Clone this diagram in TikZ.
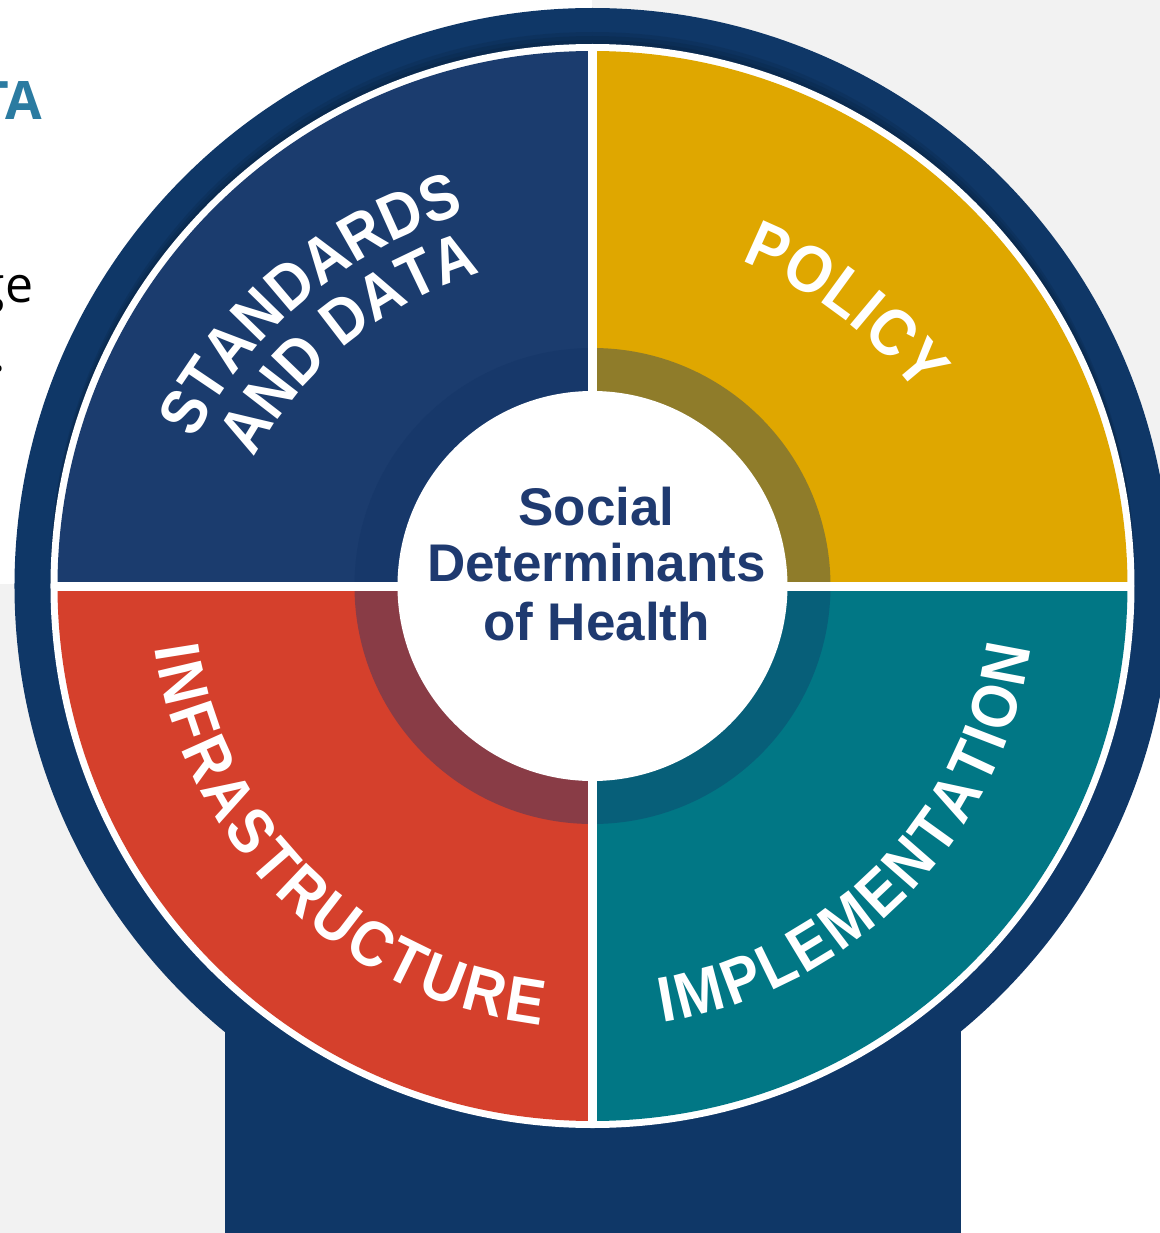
\documentclass[tikz,border=0pt]{standalone}
\usepackage{fontspec}
\setmainfont{Liberation Sans}
\newfontfamily\slidefont{Open Sans}
\newfontfamily\arcfamily[FakeStretch=0.9]{Liberation Sans}
\usetikzlibrary{decorations.text}

\definecolor{ringnavy}{HTML}{0F3767}
\definecolor{sdnavy}{HTML}{1B3C6E}
\definecolor{sdnavydark}{HTML}{17386A}
\definecolor{policygold}{HTML}{DFA700}
\definecolor{policydark}{HTML}{8F7C2A}
\definecolor{infrared}{HTML}{D5402C}
\definecolor{infradark}{HTML}{893C46}
\definecolor{implteal}{HTML}{017785}
\definecolor{impldark}{HTML}{075F79}
\definecolor{textnavy}{HTML}{1F3A70}
\definecolor{slidegray}{HTML}{F2F2F2}
\definecolor{slideteal}{HTML}{2B7BA1}

\newcommand\lblfont{\arcfamily\fontsize{32}{32}\selectfont\bfseries}
\newcommand\policyfont{\arcfamily\fontsize{33}{33}\selectfont\bfseries}

\tikzset{
  arclabel/.style={decorate, decoration={text along path, text align=fit to path, text color=white, text={#1}}},
  hubtext/.style={anchor=base, inner sep=0pt, text=textnavy, font=\fontsize{26.5}{28}\selectfont\bfseries},
  fragtext/.style={anchor=base east, inner sep=0pt},
}

\begin{document}
\begin{tikzpicture}[x=0.5pt,y=0.5pt]
\useasboundingbox (-592.5,-647) rectangle (567.5,586);

%Shape: Rectangle [page]
\fill[white] (-592.5,-647) rectangle (567.5,586);
\fill[slidegray] (0,2) rectangle (567.5,586);
\fill[slidegray] (-592.5,-647) rectangle (0,2);

% Text Node
\node[fragtext, text=slideteal, font=\slidefont\fontsize{26.5}{30}\selectfont\bfseries] (headfrag) at (-550.5,466) {TA};
% Text Node
\node[fragtext, font=\slidefont\fontsize{25}{30}\selectfont] (bodyfrag) at (-559,284) {ge};
% Text Node
\node[fragtext, font=\slidefont\fontsize{25}{30}\selectfont] (dotfrag) at (-586,214) {.};

%Shape: Rectangle [stem]
\fill[ringnavy] (-367.5,-647) rectangle (368.5,-400);
%Shape: Circle [outer ring]
\fill[ringnavy] (0,0) circle (578);
%shadow under the rim
\fill[black, opacity=0.08] (0,4) circle (542);
\fill[black, opacity=0.08] (0,8) circle (542);
\fill[black, opacity=0.08] (0,12) circle (542);
%Shape: Circle [rim]
\fill[white] (0,0) circle (542);

%Shape: Sector [standards]
\fill[sdnavy] (0,0) -- (90:535) arc[start angle=90, end angle=180, radius=535] -- cycle;
%Shape: Sector [policy]
\fill[policygold] (0,0) -- (0:535) arc[start angle=0, end angle=90, radius=535] -- cycle;
%Shape: Sector [infrastructure]
\fill[infrared] (0,0) -- (180:535) arc[start angle=180, end angle=270, radius=535] -- cycle;
%Shape: Sector [implementation]
\fill[implteal] (0,0) -- (270:535) arc[start angle=270, end angle=360, radius=535] -- cycle;

%Shape: Sector [inner ring]
\fill[sdnavydark] (0,0) -- (90:238) arc[start angle=90, end angle=180, radius=238] -- cycle;
\fill[policydark] (0,0) -- (0:238) arc[start angle=0, end angle=90, radius=238] -- cycle;
\fill[infradark] (0,0) -- (180:238) arc[start angle=180, end angle=270, radius=238] -- cycle;
\fill[impldark] (0,0) -- (270:238) arc[start angle=270, end angle=360, radius=238] -- cycle;

%Straight Lines [gaps]
\draw[white, line width=4.5pt] (-540,0) -- (540,0);
\draw[white, line width=4.5pt] (0,-540) -- (0,540);

%Shape: Circle [hub]
\fill[white] (0,0) circle (195);

% Text Node
\node[hubtext] (social) at (4,61) {Social};
% Text Node
\node[hubtext] (determinants) at (4,4.3) {Determinants};
% Text Node
\node[hubtext] (health) at (4,-54) {of Health};

%Curved text
\path[arclabel={|\lblfont|STANDARDS}] ([shift={(0,-55)}]153.2:446) arc[start angle=153.2, end angle=106.6, radius=446];
\path[arclabel={|\lblfont|AND DATA}] ([shift={(0,-55)}]151.6:385) arc[start angle=151.6, end angle=107.4, radius=385];
\path[arclabel={|\policyfont|POLICY}] ([shift={(0,-55)}]68.6:408) arc[start angle=68.6, end angle=37.2, radius=408];
\path[arclabel={|\lblfont|INFRASTRUCTURE}] (188:442) arc[start angle=188, end angle=263.3, radius=442];
\path[arclabel={|\lblfont|IMPLEMENTATION}] (279.1:442) arc[start angle=279.1, end angle=352, radius=442];

\end{tikzpicture}
\end{document}
